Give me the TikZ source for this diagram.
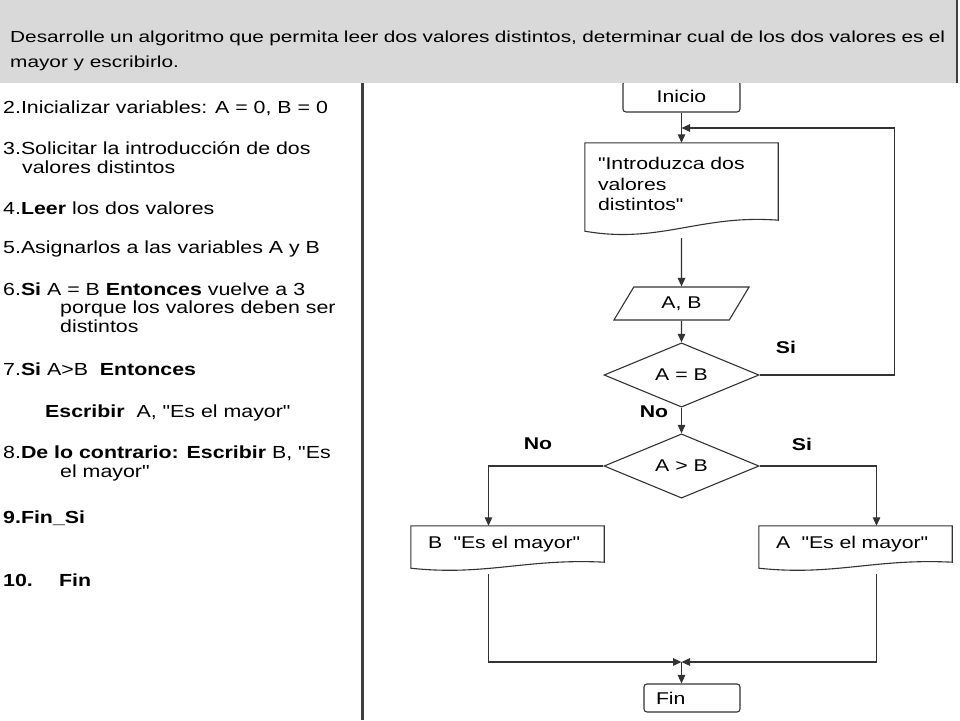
\documentclass[tikz,border=0pt]{standalone}
\usepackage{fontspec}
\setmainfont{Liberation Sans}
\newfontfamily\stepfont[FakeStretch=1.22]{Liberation Sans}
\newfontfamily\chartfont[FakeStretch=1.25]{Liberation Sans}
\newfontfamily\taskfont[FakeStretch=1.3]{Liberation Sans}
\usetikzlibrary{positioning, arrows.meta, shapes.geometric}

% outline of a document symbol round a node: node, right rise, c1, c2, left rise
\newcommand{\docoutline}[6]{%
  \draw[black!80, line width=1.1pt] (#1.north west) -- (#1.north east) -- ([yshift=#2]#1.south east)
    .. controls ([xshift=-78,yshift=#3]#1.south east) and ([xshift=75,yshift=#4]#1.south west)
    .. ([yshift=#5]#1.south west) -- cycle;}

\begin{document}
\begin{tikzpicture}[
  x=1pt, y=-1pt,
  arr/.style={-{Triangle[length=8.5pt,width=7.5pt]}, line width=1.1pt, black!80},
  term/.style={rectangle, draw=black!80, line width=1.1pt, rounded corners=3pt,
               font=\chartfont\fontsize{17}{20}\selectfont},
  doc/.style={rectangle, align=left, inner ysep=0pt,
              font=\chartfont\fontsize{17}{20.5}\selectfont},
  io/.style={trapezium, trapezium left angle=59, trapezium right angle=121,
             draw=black!80, line width=1.1pt, minimum height=33pt, minimum width=116pt,
             inner sep=0pt, font=\chartfont\fontsize{17}{20}\selectfont},
  decision/.style={diamond, draw=black!80, line width=1.1pt, minimum width=155pt,
                   minimum height=52pt, inner sep=0pt, font=\chartfont\fontsize{17}{20}\selectfont},
  lbl/.style={font=\chartfont\bfseries\fontsize{17}{20}\selectfont, inner sep=0pt},
  stepline/.style={anchor=base west, inner sep=0pt, font=\stepfont\fontsize{17.5}{19}\selectfont}
]
  \useasboundingbox (0,0) rectangle (960,720);

  % algorithm steps
  \node[stepline] (s2)  at (3,113)   {2.Inicializar variables: A = 0, B = 0};
  \node[stepline] (s3a) at (3,154)   {3.Solicitar la introducción de dos};
  \node[stepline] (s3b) at (22,173)  {valores distintos};
  \node[stepline] (s4)  at (3,214)   {4.\textbf{Leer} los dos valores};
  \node[stepline] (s5)  at (3,253)   {5.Asignarlos a las variables A y B};
  \node[stepline] (s6a) at (3,295)   {6.\textbf{Si} A = B \textbf{Entonces} vuelve a 3};
  \node[stepline] (s6b) at (60,313.5) {porque los valores deben ser};
  \node[stepline] (s6c) at (60,332)  {distintos};
  \node[stepline] (s7a) at (3,375)   {7.\textbf{Si} A>B\ \ \textbf{Entonces}};
  \node[stepline] (s7b) at (45,417)  {\textbf{Escribir}\ \ A, "Es el mayor"};
  \node[stepline] (s8a) at (3,458)   {8.\textbf{De lo contrario: Escribir} B, "Es};
  \node[stepline] (s8b) at (60,477)  {el mayor"};
  \node[stepline] (s9)  at (3,523)   {\textbf{9.Fin\_Si}};
  \node[stepline] (s10a) at (3,586)  {\textbf{10.}};
  \node[stepline] (s10b) at (59,586) {\textbf{Fin}};

  % flowchart
  \node[term, minimum width=117pt, minimum height=31pt] (inicio) at (681.5,96.5) {Inicio};
  \node[doc, minimum width=193pt, minimum height=82pt, text width=167pt, inner xsep=13pt]
       (intro) at (681.5,184) {"Introduzca dos\\valores\\distintos"};
  \docoutline{intro}{5}{11}{-19}{-6}{}
  \node[io] (ab) at (681.5,303.5) {A, B};
  \node[decision] (eq) at (681.5,375) {A = B};
  \node[decision] (gt) at (681.5,466) {A > B};
  \node[doc, minimum width=193pt, minimum height=36pt, text width=159pt, inner xsep=17pt]
       (bmay) at (507.5,544) {B\ \ "Es el mayor"};
  \node[doc, minimum width=193pt, minimum height=36pt, text width=159pt, inner xsep=17pt]
       (amay) at (855.5,544) {A\ \ "Es el mayor"};
  \docoutline{bmay}{0}{4}{-14}{-6}{}
  \docoutline{amay}{0}{4}{-14}{-6}{}
  \node[term, minimum width=96pt, minimum height=28pt, text width=72pt, inner xsep=12pt,
        align=left] (fin) at (692,698) {Fin};

  \coordinate (back) at (681.5,128);
  \coordinate (join) at (681.5,662);

  \draw[arr] (inicio) -- (intro);
  \draw[arr] (eq.east) -- ++(135,0) |- (back);
  \draw[arr, shorten <=13pt] (intro) -- (ab);
  \draw[arr] (ab) -- (eq);
  \draw[arr] (eq) -- (gt);
  \draw[arr] (gt.west) -| ([xshift=-19]bmay.north);
  \draw[arr] (gt.east) -| ([xshift=21]amay.north);
  \draw[arr, shorten <=12pt] ([xshift=-19]bmay.south) |- (join);
  \draw[arr, shorten <=12pt] ([xshift=21]amay.south) |- (join);
  \draw[arr] (join) -- (join |- fin.north);

  \node[lbl] (si1) at (786,347) {Si};
  \node[lbl] (no1) at (654,412) {No};
  \node[lbl] (no2) at (538,444) {No};
  \node[lbl] (si2) at (802,444) {Si};

  % task statement
  \fill[black!15] (0,0) rectangle (957,83);
  \draw[line width=2pt, black!75] (957,0) -- (957,83);
  \node[anchor=north west, inner sep=0pt, text width=935pt, align=justify,
        font=\taskfont\fontsize{16}{25}\selectfont] (task) at (10,31)
    {Desarrolle un algoritmo que permita leer dos valores distintos, determinar cual de los dos valores es el\linebreak mayor y escribirlo.};
  \draw[line width=3pt, black!75] (362,83) -- (362,720);
\end{tikzpicture}
\end{document}
